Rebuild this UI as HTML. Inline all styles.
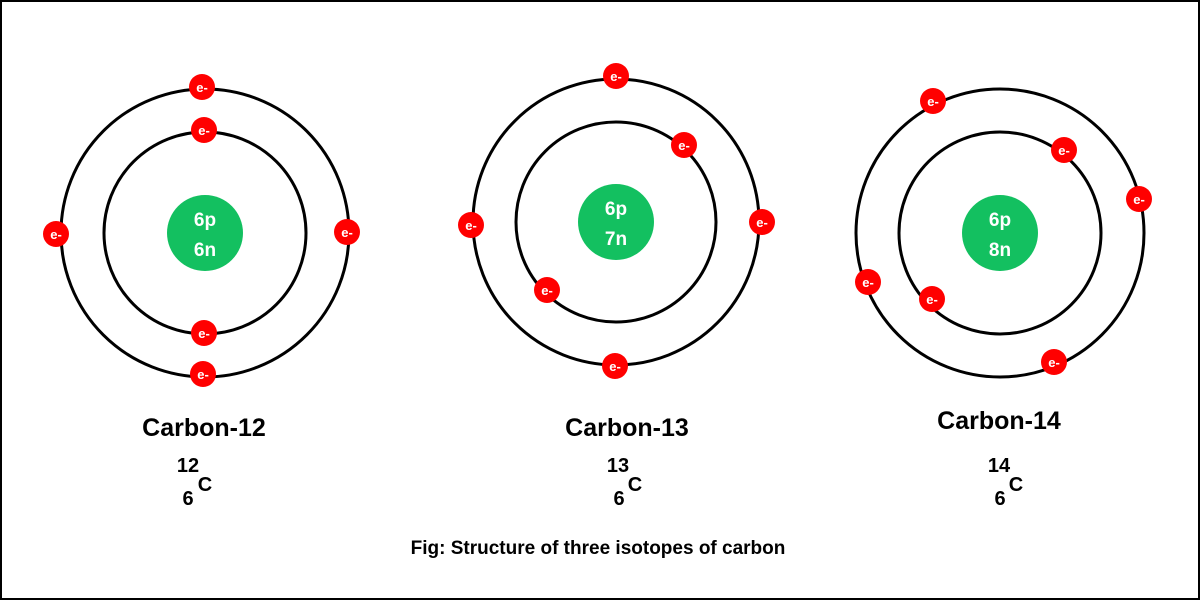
<!DOCTYPE html>
<html><head><meta charset="utf-8"><style>
html,body{margin:0;padding:0;background:#fff}
svg{display:block}
text{font-family:"Liberation Sans",sans-serif;font-weight:bold}
</style></head><body>
<svg width="1200" height="600" viewBox="0 0 1200 600" xmlns="http://www.w3.org/2000/svg">
<rect x="1" y="1" width="1198" height="598" fill="#fff" stroke="#000" stroke-width="2"/>
<g fill="none" stroke="#000" stroke-width="3">
<circle cx="205" cy="233" r="144"/><circle cx="205" cy="233" r="101"/>
<circle cx="616" cy="222" r="143"/><circle cx="616" cy="222" r="100"/>
<circle cx="1000" cy="233" r="144"/><circle cx="1000" cy="233" r="101"/>
</g>
<g fill="#13c060">
<circle cx="205" cy="233" r="38"/><circle cx="616" cy="222" r="38"/><circle cx="1000" cy="233" r="38"/>
</g>
<g fill="#fff" font-size="19" text-anchor="middle">
<text x="205" y="226">6p</text><text x="205" y="256">6n</text>
<text x="616" y="215">6p</text><text x="616" y="245">7n</text>
<text x="1000" y="226">6p</text><text x="1000" y="256">8n</text>
</g>
<g fill="#f00">
<circle cx="202" cy="87" r="13"/><circle cx="204" cy="130" r="13"/><circle cx="56" cy="234" r="13"/><circle cx="347" cy="232" r="13"/><circle cx="204" cy="333" r="13"/><circle cx="203" cy="374" r="13"/>
<circle cx="616" cy="76" r="13"/><circle cx="684" cy="145" r="13"/><circle cx="471" cy="225" r="13"/><circle cx="762" cy="222" r="13"/><circle cx="547" cy="290" r="13"/><circle cx="615" cy="366" r="13"/>
<circle cx="933" cy="101" r="13"/><circle cx="1064" cy="150" r="13"/><circle cx="1139" cy="199" r="13"/><circle cx="868" cy="282" r="13"/><circle cx="932" cy="299" r="13"/><circle cx="1054" cy="362" r="13"/>
</g>
<g fill="#fff" font-size="13" font-weight="normal" text-anchor="middle">
<text x="202" y="92">e-</text><text x="204" y="135">e-</text><text x="56" y="239">e-</text><text x="347" y="237">e-</text><text x="204" y="338">e-</text><text x="203" y="379">e-</text>
<text x="616" y="81">e-</text><text x="684" y="150">e-</text><text x="471" y="230">e-</text><text x="762" y="227">e-</text><text x="547" y="295">e-</text><text x="615" y="371">e-</text>
<text x="933" y="106">e-</text><text x="1064" y="155">e-</text><text x="1139" y="204">e-</text><text x="868" y="287">e-</text><text x="932" y="304">e-</text><text x="1054" y="367">e-</text>
</g>
<g fill="#000" font-size="25" text-anchor="middle">
<text x="204" y="436">Carbon-12</text>
<text x="627" y="436">Carbon-13</text>
<text x="999" y="429">Carbon-14</text>
</g>
<g fill="#000" font-size="20" text-anchor="middle">
<text x="188" y="472">12</text><text x="188" y="505">6</text><text x="205" y="491">C</text>
<text x="618" y="472">13</text><text x="619" y="505">6</text><text x="635" y="491">C</text>
<text x="999" y="472">14</text><text x="1000" y="505">6</text><text x="1016" y="491">C</text>
</g>
<text x="598" y="554" font-size="19" text-anchor="middle" fill="#000">Fig: Structure of three isotopes of carbon</text>
</svg>
</body></html>
